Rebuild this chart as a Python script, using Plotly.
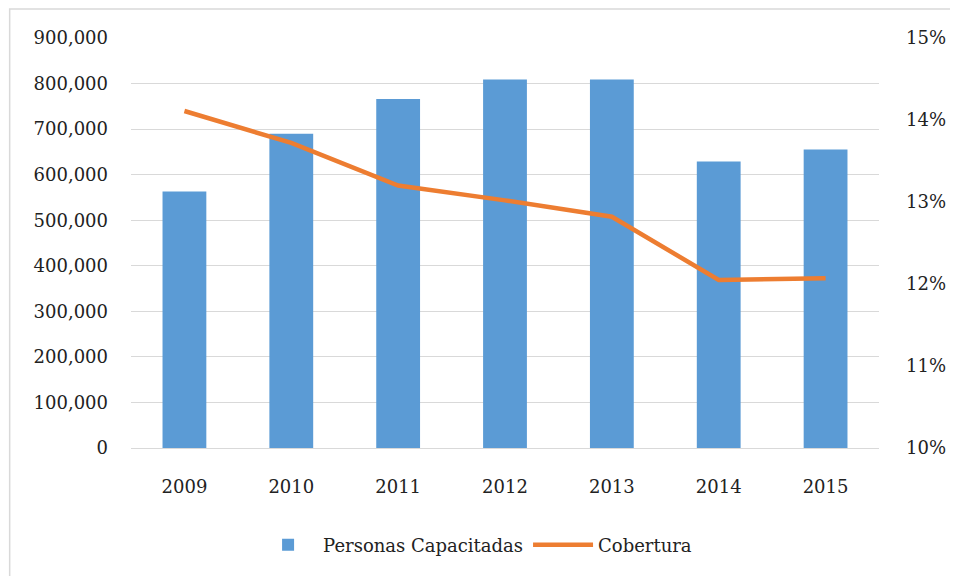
import plotly.graph_objects as go

years = ["2009", "2010", "2011", "2012", "2013", "2014", "2015"]
personas = [563000, 690000, 766000, 809000, 809000, 629000, 655000]
cobertura = [14.11, 13.72, 13.20, 13.02, 12.82, 12.05, 12.07]

font_family = "DejaVu Serif, Liberation Serif, serif"
fig = go.Figure()
fig.add_trace(go.Bar(
    x=years, y=personas, name="Personas Capacitadas",
    marker=dict(color="#5B9BD5", line=dict(width=0)),
    yaxis="y",
))
fig.add_trace(go.Scatter(
    x=years, y=cobertura, name="Cobertura", mode="lines",
    line=dict(color="#ED7D31", width=4.5),
    yaxis="y2",
))

fig.update_layout(
    width=950, height=568,
    margin=dict(l=123, r=75, t=30, b=128),
    paper_bgcolor="white", plot_bgcolor="white",
    font=dict(family=font_family, size=18, color="#222222"),
    bargap=0.59,
    showlegend=True,
    legend=dict(orientation="h", x=0.46, xanchor="center", y=-0.237, yanchor="middle",
                font=dict(size=18), itemwidth=60, tracegroupgap=0),
    xaxis=dict(showgrid=False, showline=False, ticks="", ticklabelstandoff=26,
               tickfont=dict(size=18)),
    yaxis=dict(range=[0, 900000], dtick=100000, tickformat=",", showgrid=True,
               gridcolor="#d9d9d9", gridwidth=1.3, zeroline=True, zerolinecolor="#d9d9d9",
               zerolinewidth=1.3, showline=False, ticks="", ticklabelstandoff=22,
               tickfont=dict(size=18)),
    yaxis2=dict(range=[10, 15], dtick=1, ticksuffix="%", overlaying="y", side="right",
                showgrid=False, zeroline=False, showline=False, ticks="",
                ticklabelstandoff=26, tickfont=dict(size=18)),
    shapes=[dict(type="rect", xref="paper", yref="paper",
                 x0=-0.1622, x1=1.2, y0=-0.4, y1=1.0707,
                 line=dict(color="#d9d9d9", width=1.5), fillcolor="rgba(0,0,0,0)",
                 layer="below")],
)

fig.write_html("out.html")
